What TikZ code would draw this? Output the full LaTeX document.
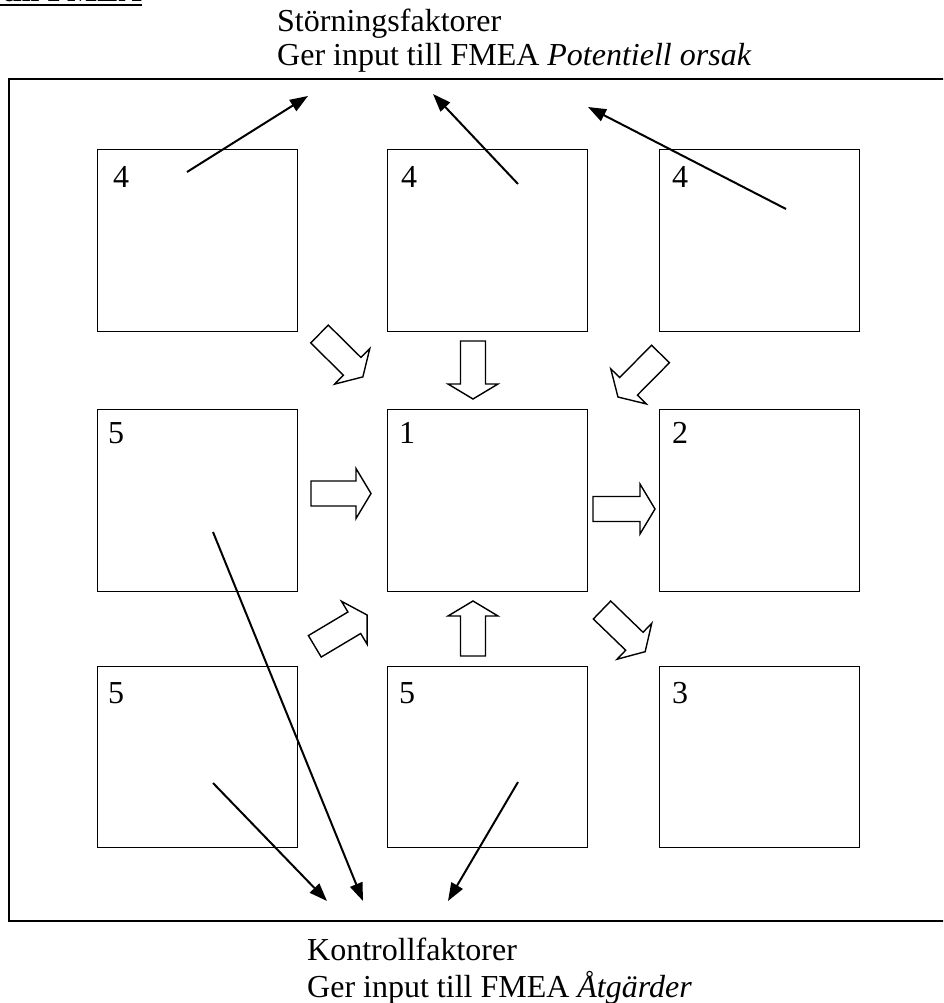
\documentclass[tikz,border=0pt]{standalone}
\usepackage{fontspec}
\setmainfont{Liberation Serif}
\usetikzlibrary{arrows.meta}

\tikzset{
  cell/.style={draw, line width=1.4pt, minimum width=200pt, minimum height=182pt,
               inner sep=0pt, anchor=north west},
  num/.style={font=\fontsize{32}{37}\selectfont, anchor=base west, inner sep=0pt},
  caption/.style={font=\fontsize{32}{37}\selectfont, anchor=base west, inner sep=0pt},
  ptr/.style={line width=2pt, -{Triangle[length=18pt,width=13pt]}},
  blk/.style={draw, line width=1.4pt, fill=white, line join=miter},
}

% hollow block arrow: tail centre, direction (deg), total length
\newcommand{\blockarr}[3]{%
  \draw[blk, shift={(#1)}, rotate=#2]
    (0,-12.5) -- (#3-15,-12.5) -- (#3-15,-25) -- (#3,0) --
    (#3-15,25) -- (#3-15,12.5) -- (0,12.5) -- cycle;}

\begin{document}
\begin{tikzpicture}[x=1pt,y=-1pt]
\clip (0,0) rectangle (943,1003);

% heading fragment at the top edge
\node[caption, font=\fontsize{32}{37}\selectfont\bfseries, anchor=base east] (head) at (142,1.5) {till FMEA};
\draw[line width=1.5pt] (0,5) -- (142,5);

% outer frame (runs past the right edge)
\draw[line width=2pt] (960,79) -- (9,79) -- (9,921) -- (960,921);

% grid of boxes
\node[cell] (b11) at (97,149) {};
\node[cell] (b12) at (387,149) {};
\node[cell] (b13) at (659,149) {};
\node[cell] (b21) at (97,409) {};
\node[cell] (b22) at (387,409) {};
\node[cell] (b23) at (659,409) {};
\node[cell, minimum height=181pt] (b31) at (97,666) {};
\node[cell, minimum height=181pt] (b32) at (387,666) {};
\node[cell, minimum height=181pt] (b33) at (659,666) {};

% box numbers
\node[num] (n11) at (113,187) {4};
\node[num] (n12) at (401,187) {4};
\node[num] (n13) at (672,187) {4};
\node[num] (n21) at (108,443) {5};
\node[num] (n22) at (399,443) {1};
\node[num] (n23) at (672,443) {2};
\node[num] (n31) at (108,703) {5};
\node[num] (n32) at (399,703) {5};
\node[num] (n33) at (672,703) {3};

% block arrows between the boxes
\blockarr{319.5,334}{-44.7}{61}
\blockarr{473,341}{-90}{58}
\blockarr{660.5,354}{-134.7}{60.5}
\blockarr{311,493.5}{0}{60}
\blockarr{593,509}{0}{62}
\blockarr{314.8,646.3}{30.8}{61}
\blockarr{473,656}{90}{55}
\blockarr{602,610}{-44}{60}

% captions
\node[caption] (top1) at (277,32) {Störningsfaktorer};
\node[caption] (top2) at (277,66) {Ger input till FMEA \textit{Potentiell orsak}};
\node[caption] (bot1) at (307,960) {Kontrollfaktorer};
\node[caption] (bot2) at (307,997) {Ger input till FMEA \textit{Åtgärder}};

% line arrows to the captions
\coordinate (s1) at (187,172);  \coordinate (t1) at (308,96);
\coordinate (s2) at (518,184);  \coordinate (t2) at (433,94);
\coordinate (s3) at (786,209);  \coordinate (t3) at (588,107);
\coordinate (s4) at (213,783);  \coordinate (t4) at (327,901);
\coordinate (s5) at (213,532);  \coordinate (t5) at (363,901);
\coordinate (s6) at (518,782);  \coordinate (t6) at (448,901);
\draw[ptr] (s1) -- (t1);
\draw[ptr] (s2) -- (t2);
\draw[ptr] (s3) -- (t3);
\draw[ptr] (s4) -- (t4);
\draw[ptr] (s5) -- (t5);
\draw[ptr] (s6) -- (t6);
\end{tikzpicture}
\end{document}
